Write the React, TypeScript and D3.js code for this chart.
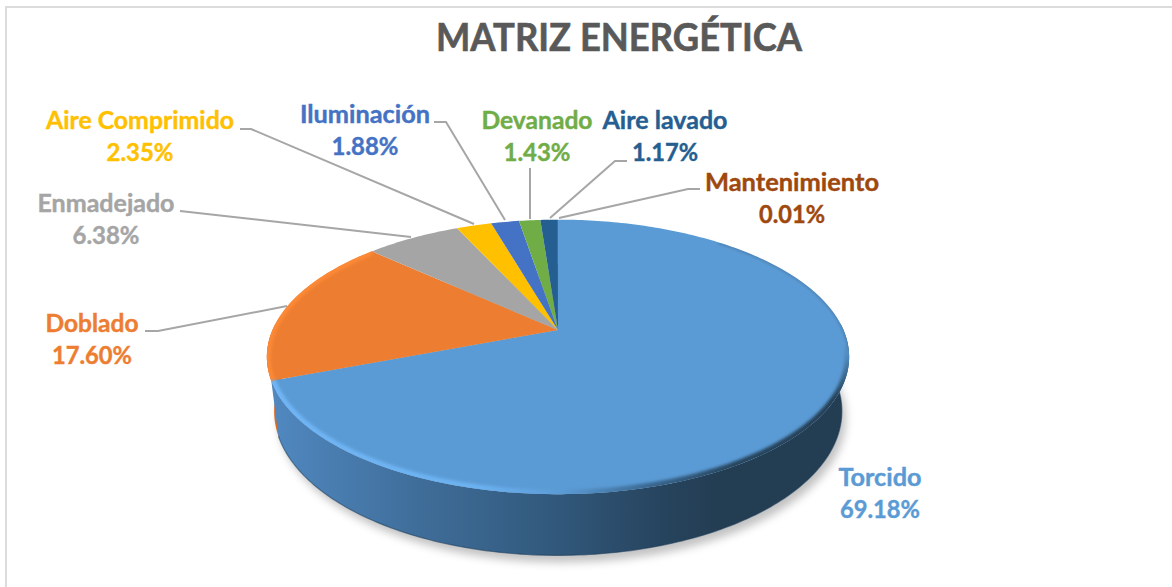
import React from "react";
import * as d3 from "d3";

const title = "MATRIZ ENERGÉTICA";
const categories = ["Torcido", "Doblado", "Enmadejado", "Aire Comprimido", "Iluminación", "Devanado", "Aire lavado", "Mantenimiento"];
const shares = [69.18, 17.6, 6.38, 2.35, 1.88, 1.43, 1.17, 0.01];
const shareLabels = ["69.18%", "17.60%", "6.38%", "2.35%", "1.88%", "1.43%", "1.17%", "0.01%"];
const colors = ["#5b9bd5", "#ed7d31", "#a5a5a5", "#ffc000", "#4472c4", "#70ad47", "#255e91", "#9e480e"];

// layout: name centre x, name baseline, value centre x, name width, value width
const labelLayout: [number, number, number, number, number][] = [
  [880, 486, 880, 83, 80],
  [92, 332, 92, 93, 80],
  [106, 212, 106, 137, 67],
  [140, 129, 140, 188, 67],
  [365, 123, 365, 130, 67],
  [537, 129, 537, 111, 67],
  [665, 129, 665, 125, 66],
  [792, 191, 792, 174, 66],
];
const leaderLines: [number, number][][] = [
  [],
  [[145, 331], [158, 331], [287, 306]],
  [[180, 211], [189, 212], [411, 237]],
  [[240, 129], [251, 129], [474, 224]],
  [[434, 122], [446, 122], [505, 220]],
  [[530, 168], [530, 219]],
  [[627, 161], [615, 161], [550, 218]],
  [[700, 189], [688, 189], [559, 218]],
];

const W = 1172, H = 587;
const apexX = 558, apexY = 330;
const tilt = 0.196, persp = 132, radius = 285.5;

// perspective projection of a point on the unit disc (angle clockwise from 12 o'clock)
const project = (a: number, r = 1): [number, number] => {
  const X = r * Math.sin(a), Y = r * Math.cos(a);
  const d = 1 + tilt * Y;
  return [apexX + (radius * X) / d, apexY - (persp * Y) / d];
};
const lower = ([x, y]: [number, number]): [number, number] => [
  apexX + 0.975 * (x - apexX),
  apexY + 53 + 1.05 * (y - apexY),
];

const arcs = d3.pie<number>().sort(null).value((d) => d)(shares);
const line = d3.line<[number, number]>();
const samples = (a0: number, a1: number) =>
  d3.range(0, 1.0001, 1 / Math.max(2, Math.ceil(Math.abs(a1 - a0) * 60))).map((t) => a0 + (a1 - a0) * t);

const wedge = (a0: number, a1: number) =>
  line([[apexX, apexY], ...samples(a0, a1).map((a) => project(a))])! + "Z";
const rim = (a0: number, a1: number, r = 1) => line(samples(a0, a1).map((a) => project(a, r)))!;
const sideBand = (a0: number, a1: number) => {
  const top = samples(a0, a1).map((a) => project(a));
  const bot = top.map(lower).reverse();
  return line([...top, ...bot])! + "Z";
};
const visStart = Math.PI / 2 - 0.05;
const torcidoEnd = arcs[0].endAngle;
const dobladoEnd = arcs[1].endAngle;
const legLeft = 1.5 * Math.PI + 0.04;
const discAll = line(samples(0, 2 * Math.PI).map((a) => lower(project(a))))! + "Z";
const wallBottom = line(samples(visStart, torcidoEnd).map((a) => lower(project(a))))!;
const font = "Lato, 'Open Sans', sans-serif";

export default function App() {
  return (
    <svg width={W} height={H} viewBox={`0 0 ${W} ${H}`} style={{ position: "absolute", left: 0, top: 0, display: "block", background: "#fff" }}>
      <defs>
        <linearGradient id="side" gradientUnits="userSpaceOnUse" x1={272} x2={845} y1={0} y2={0}>
          <stop offset="0" stopColor="#5088c0" />
          <stop offset="0.26" stopColor="#3f6d99" />
          <stop offset="0.5" stopColor="#31587b" />
          <stop offset="0.68" stopColor="#27445e" />
          <stop offset="0.78" stopColor="#233d53" />
          <stop offset="1" stopColor="#233d53" />
        </linearGradient>
        <linearGradient id="bevel" gradientUnits="userSpaceOnUse" x1={272} x2={850} y1={0} y2={0}>
          <stop offset="0" stopColor="#6fb5f5" />
          <stop offset="0.36" stopColor="#6cb1f0" />
          <stop offset="0.5" stopColor="#5b9bd5" />
          <stop offset="0.66" stopColor="#38658c" />
          <stop offset="0.8" stopColor="#28455e" />
          <stop offset="1" stopColor="#243f55" />
        </linearGradient>
        <linearGradient id="fadeY" gradientUnits="userSpaceOnUse" x1={0} x2={0} y1={345} y2={400}>
          <stop offset="0" stopColor="#000" />
          <stop offset="1" stopColor="#fff" />
        </linearGradient>
        <mask id="bevelMask" maskUnits="userSpaceOnUse" x={200} y={200} width={740} height={387}>
          <rect x={200} y={200} width={740} height={387} fill="url(#fadeY)" />
          <rect x={200} y={345} width={200} height={242} fill="#fff" />
        </mask>
        <filter id="soft" filterUnits="userSpaceOnUse" x={200} y={200} width={740} height={387}><feGaussianBlur stdDeviation="4.5" /></filter>
        <filter id="blur1" filterUnits="userSpaceOnUse" x={200} y={200} width={740} height={387}><feGaussianBlur stdDeviation="1.5" /></filter>
        <clipPath id="topClip"><path d={wedge(0, 2 * Math.PI)} /></clipPath>
      </defs>

      <rect x={6} y={7} width={W + 20} height={H + 20} fill="#fff" stroke="#dcdcdc" strokeWidth={2} />

      <text x={619} y={51} textAnchor="middle" fontFamily={font} fontWeight={700} fontSize={38} fill="#595959" stroke="#595959" strokeWidth={0.6} textLength={366} lengthAdjust="spacingAndGlyphs">{title}</text>

      <g filter="url(#soft)">
        <path d={discAll} transform="translate(4,7)" fill="#000" fillOpacity={0.24} />
      </g>

      {/* orange outer wall on the far left */}
      <path d={sideBand(torcidoEnd - 0.02, legLeft)} fill="#d86a22" />
      {/* blue outer wall */}
      <path d={sideBand(visStart, torcidoEnd)} fill="url(#side)" />
      <path d={wallBottom} fill="none" stroke="#1c3d5a" strokeWidth={1.2} strokeOpacity={0.55} />

      {arcs.map((a, i) => (
        <path key={categories[i]} d={wedge(a.startAngle, a.endAngle)} fill={colors[i]} />
      ))}

      <g clipPath="url(#topClip)">
        <g mask="url(#bevelMask)">
          <path d={rim(visStart - 0.3, torcidoEnd)} fill="none" stroke="url(#bevel)" strokeWidth={9} filter="url(#blur1)" />
        </g>
        <path d={rim(torcidoEnd, dobladoEnd)} fill="none" stroke="#ff8b35" strokeWidth={8} filter="url(#blur1)" strokeOpacity={0.85} />
        <path d={rim(0.7, visStart + 0.2)} fill="none" stroke="#2c4f6e" strokeWidth={1.6} filter="url(#blur1)" strokeOpacity={0.6} />
      </g>

      {leaderLines.map((pts, i) =>
        pts.length ? <path key={i} d={line(pts)!} fill="none" stroke="#a6a6a6" strokeWidth={2} /> : null
      )}

      {categories.map((c, i) => {
        const [nx, ny, vx, nw, vw] = labelLayout[i];
        return (
          <g key={c} fontFamily={font} fontWeight={700} fontSize={24} fill={colors[i]} stroke={colors[i]} strokeWidth={0.4} textAnchor="middle">
            <text x={nx} y={ny} textLength={nw} lengthAdjust="spacingAndGlyphs">{c}</text>
            <text x={vx} y={ny + 32} textLength={vw} lengthAdjust="spacingAndGlyphs">{shareLabels[i]}</text>
          </g>
        );
      })}
    </svg>
  );
}
